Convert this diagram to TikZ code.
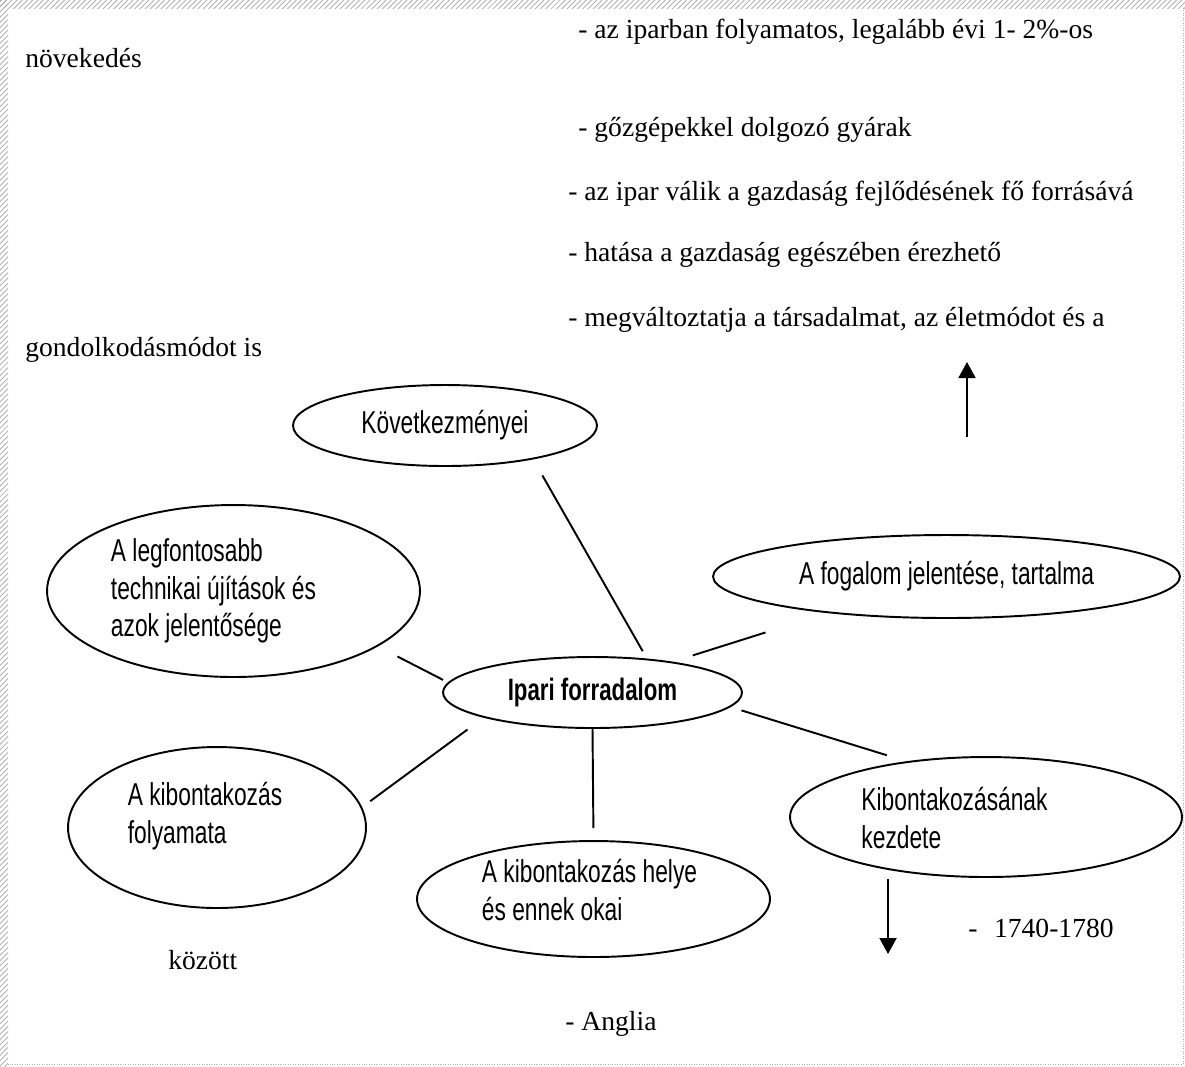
\documentclass[tikz,border=0pt]{standalone}
\usepackage{fontspec}
\setmainfont{Liberation Serif}
\setsansfont{Liberation Sans}[FakeStretch=0.72]
\usepackage{tikz}
\usetikzlibrary{shapes.geometric, arrows.meta, patterns}

\begin{document}
\begin{tikzpicture}[
  x=0.02cm, y=-0.02cm,
  bubble/.style={ellipse, draw, line width=1.1pt, inner sep=0pt, align=left, font=\sffamily\fontsize{18}{21.5}\selectfont},
  bubbletxt/.style={inner sep=0pt, align=left, font=\sffamily\fontsize{18}{21.5}\selectfont},
  spoke/.style={line width=1.1pt},
  pointer/.style={-{Triangle[length=0.32cm, width=0.34cm]}, line width=1.1pt},
  note/.style={anchor=west, inner sep=0pt, font=\fontsize{15.7}{18}\selectfont}
]
\useasboundingbox (0,0) rectangle (1185,1066);

% ===== Scan frame =====
\fill[pattern=north east lines, pattern color=gray!70] (0,0) rectangle (1185,8);
\fill[pattern=north east lines, pattern color=gray!70] (0,0) rectangle (8,1066);
\draw[gray!60, densely dotted] (1183,8) -- (1183,1064) -- (8,1064);

% ===== Bubbles =====
\node[bubble, font=\sffamily\bfseries\fontsize{17.6}{21}\selectfont, minimum width=5.98cm, minimum height=1.42cm] (ipari) at (592.5,692.5) {Ipari forradalom};
\node[bubble, minimum width=6.08cm, minimum height=1.62cm] (kov) at (445,425.5) {Következményei};
\node[bubble, minimum width=9.34cm, minimum height=1.66cm] (fog) at (946.5,576.5) {A fogalom jelentése, tartalma};
\node[bubble, minimum width=7.46cm, minimum height=3.44cm,
  label={[bubbletxt, xshift=-0.4cm]center:{A legfontosabb\\technikai újítások és\\azok jelentősége}}] (legf) at (233.5,591) {};
\node[bubble, minimum width=5.96cm, minimum height=3.22cm,
  label={[bubbletxt, xshift=-0.24cm, yshift=0.22cm]center:{A kibontakozás\\folyamata}}] (foly) at (217,827.5) {};
\node[bubble, minimum width=7.06cm, minimum height=2.32cm,
  label={[bubbletxt, xshift=-0.08cm, yshift=0.18cm]center:{A kibontakozás helye\\és ennek okai}}] (helye) at (593.5,899) {};
\node[bubble, minimum width=7.84cm, minimum height=2.4cm,
  label={[bubbletxt, xshift=-0.63cm, yshift=-0.02cm]center:{Kibontakozásának\\kezdete}}] (kezd) at (986,817) {};

% ===== Spokes =====
\draw[spoke, shorten <=0.37cm, shorten >=0.17cm] (kov.-21) -- (ipari.32);
\draw[spoke, shorten <=0.44cm, shorten >=0.11cm] (legf.-21) -- (ipari.176);
\draw[spoke, shorten <=1.29cm, shorten >=0.42cm] (fog.-163) -- (ipari.21);
\draw[spoke, shorten <=0.23cm, shorten >=0.41cm] (ipari.-6) -- (kezd.145);
\draw[spoke, shorten <=0.40cm, shorten >=0.20cm] (ipari.-167) -- (foly.8);
\draw[spoke, shorten >=0.24cm] (ipari.south) -- (helye.north);

% ===== Notes =====
\node[note] (n1) at (578,32) {- az iparban folyamatos, legalább évi 1- 2\%-os};
\node[note] (n1b) at (25,58) {növekedés};
\node[note] (n2) at (578,130) {- gőzgépekkel dolgozó gyárak};
\node[note] (n3) at (568,194) {- az ipar válik a gazdaság fejlődésének fő forrásává};
\node[note] (n4) at (568,255) {- hatása a gazdaság egészében érezhető};
\node[note] (n5) at (568,320) {- megváltoztatja a társadalmat, az életmódot és a};
\node[note] (n5b) at (25,350) {gondolkodásmódot is};
\node[note] (kor) at (968,928) {-\hspace{0.6em}1740-1780};
\node[note] (kozott) at (168,960) {között};
\node[note] (hely) at (565,1024) {- Anglia};

% ===== Arrows =====
\coordinate (upfrom) at (967,437);
\coordinate (upto) at (967,362);
\coordinate (downfrom) at (888,879);
\coordinate (downto) at (888,954);
\draw[pointer] (upfrom) -- (upto);
\draw[pointer] (downfrom) -- (downto);

\end{tikzpicture}
\end{document}
